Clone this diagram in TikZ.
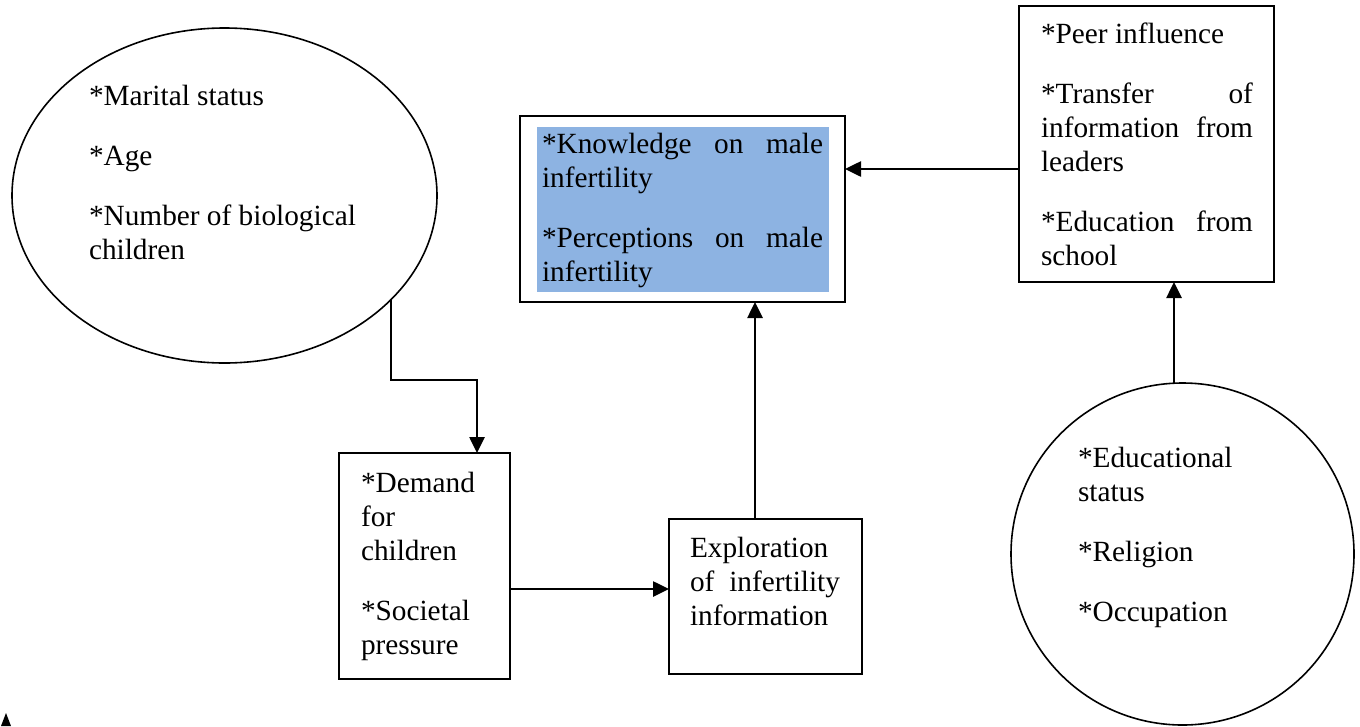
\documentclass[tikz,border=0pt]{standalone}
\usepackage{fontspec}
\setmainfont{Liberation Serif}
\usetikzlibrary{arrows.meta,shapes.geometric}
\definecolor{kblue}{HTML}{8DB3E2}
\newcommand{\mytxt}[2]{\parbox[t]{#1}{\setlength{\parskip}{26pt}\setlength{\parindent}{0pt}\tolerance=10000\hbadness=10000\hyphenpenalty=10000\exhyphenpenalty=10000 #2}}
\begin{document}
\begin{tikzpicture}[x=1pt,y=-1pt,
  box/.style={draw,line width=2pt,rectangle,inner sep=0pt,outer sep=0pt},
  oval/.style={draw,line width=1.6pt,ellipse,inner sep=0pt,outer sep=0pt},
  txt/.style={anchor=base west,inner sep=0pt,outer sep=0pt,font=\fontsize{29.3}{34}\selectfont},
  arr/.style={line width=2.6pt,-{Triangle[length=16pt,width=15pt]}}]
\useasboundingbox (0,0) rectangle (1360,726);

\node[oval,minimum width=425pt,minimum height=335pt] (ell) at (224.5,195.5) {};
\node[box,minimum width=325pt,minimum height=186pt] (cbox) at (682.5,209) {};
\node[fill=kblue,inner sep=0pt,outer sep=0pt,minimum width=292pt,minimum height=165pt] (cfill) at (683,209.5) {};
\node[box,minimum width=255pt,minimum height=276pt] (rbox) at (1146.5,144) {};
\node[box,minimum width=171pt,minimum height=226pt] (dem) at (424.5,566) {};
\node[box,minimum width=193pt,minimum height=155pt] (expl) at (765.5,596.5) {};
\node[oval,minimum width=343pt,minimum height=342pt] (circ) at (1182.5,554) {};

\node[txt] (t1) at (89,105) {\mytxt{290pt}{\raggedright *Marital status\par *Age\par *Number of biological children}};
\node[txt] (t2) at (542,153) {\mytxt{281pt}{*Knowledge on male infertility\par *Perceptions on male infertility}};
\node[txt] (t3) at (1041,43) {\mytxt{212pt}{*Peer influence\par *Transfer of information from leaders\par *Education from school}};
\node[txt] (t4) at (361,492) {\mytxt{127pt}{\raggedright *Demand for children\par *Societal pressure}};
\node[txt] (t5) at (690,557) {\mytxt{150pt}{Exploration of infertility information}};
\node[txt] (t6) at (1078,467) {\mytxt{190pt}{\raggedright *Educational status\par *Religion\par *Occupation}};

\coordinate (ya) at (0,169);
\draw[arr] (rbox.west |- ya) -- (cbox.east |- ya);
\coordinate (xb) at (755,0);
\draw[arr] (expl.north -| xb) -- (cbox.south -| xb);
\coordinate (yc) at (0,589);
\draw[arr] (dem.east |- yc) -- (expl.west |- yc);
\coordinate (elb) at (477,380);
\draw[arr] (ell.-32) |- (elb) -- (elb |- dem.north);
\coordinate (xd) at (1174,0);
\draw[arr] ([xshift=-8.5pt]circ.north) -- (rbox.south -| xd);

\fill (1,726) -- (11,726) -- (6,713) -- cycle;
\end{tikzpicture}
\end{document}
